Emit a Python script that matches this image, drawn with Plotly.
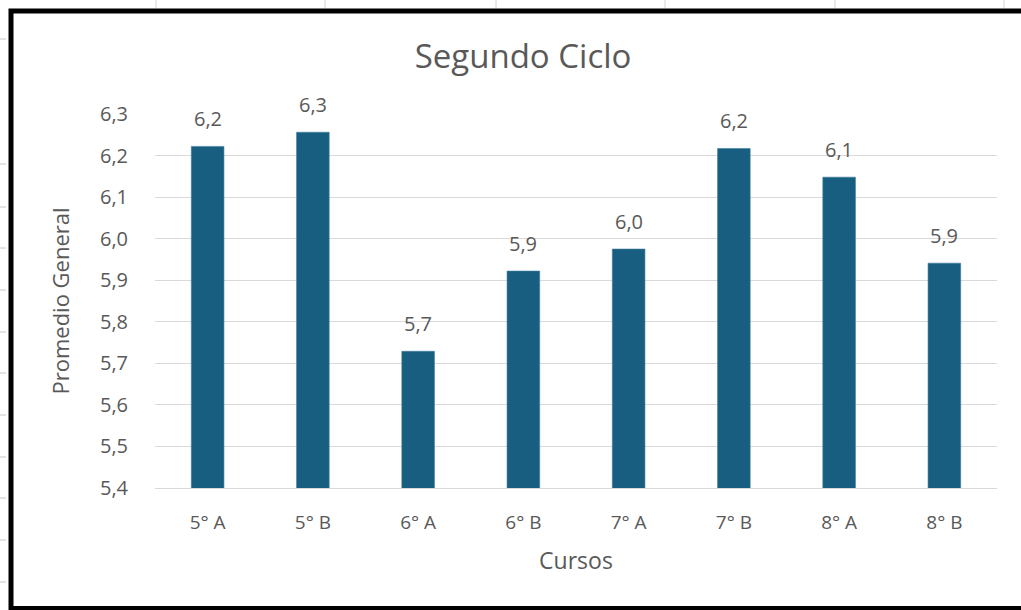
import plotly.graph_objects as go

cursos = ["5° A", "5° B", "6° A", "6° B", "7° A", "7° B", "8° A", "8° B"]
promedios = [6.222, 6.256, 5.729, 5.922, 5.975, 6.217, 6.148, 5.941]
y_ticks = [5.4, 5.5, 5.6, 5.7, 5.8, 5.9, 6.0, 6.1, 6.2, 6.3]
y_tick_labels = [f"{v:.1f}".replace(".", ",") for v in y_ticks]
data_labels = [f"{v:.1f}".replace(".", ",") for v in promedios]

W, H = 1021, 610
ML, MR, MT, MB = 155, 24, 114, 122
PW, PH = W - ML - MR, H - MT - MB

def px(x):
    return (x - ML) / PW

def py(y):
    return (H - MB - y) / PH

TXT = "#595959"
BAR = "#175E81"
FONT = "Open Sans, Liberation Sans, sans-serif"

fig = go.Figure()
fig.add_trace(go.Bar(
    x=cursos, y=promedios, width=0.31,
    marker=dict(color=BAR, line=dict(color="#3F7C9C", width=0.6)),
    hoverinfo="x+y",
))

for c, v, t in zip(cursos, promedios, data_labels):
    fig.add_annotation(x=c, y=v, text=t, showarrow=False, yshift=28,
                       font=dict(family=FONT, size=20, color=TXT))

shapes = []
# spreadsheet background gridlines (top)
for xv in [156, 325, 496, 665, 835, 1004]:
    shapes.append(dict(type="line", xref="paper", yref="paper",
                       x0=px(xv), x1=px(xv), y0=py(0), y1=py(8),
                       line=dict(color="#D4D4D4", width=1)))
# spreadsheet row ticks (left)
for yv in [39, 164, 207, 248, 290, 332, 373, 415, 457, 498, 540, 582]:
    shapes.append(dict(type="line", xref="paper", yref="paper",
                       x0=px(0), x1=px(6), y0=py(yv), y1=py(yv),
                       line=dict(color="#C8C8C8", width=1)))
# black chart border
shapes.append(dict(type="rect", xref="paper", yref="paper",
                   x0=px(11), x1=px(1040), y0=py(11), y1=py(608.5),
                   line=dict(color="black", width=5), fillcolor="rgba(0,0,0,0)"))
fig.update_layout(shapes=shapes)

fig.update_layout(
    width=W, height=H,
    margin=dict(l=ML, r=MR, t=MT, b=MB),
    paper_bgcolor="white", plot_bgcolor="white",
    separators=",.",
    showlegend=False,
    title=dict(text="Segundo Ciclo", x=px(523), xanchor="center", xref="paper",
               y=1 - 56 / H, yanchor="middle",
               font=dict(family=FONT, size=33, color=TXT)),
)
fig.update_xaxes(
    showgrid=False, showline=True, linecolor="#D9D9D9", linewidth=1,
    ticks="", ticklabelstandoff=17,
    tickfont=dict(family=FONT, size=19, color=TXT),
    title=dict(text="Cursos", standoff=19,
               font=dict(family=FONT, size=23, color=TXT)),
)
fig.update_yaxes(
    range=[5.4, 6.3], tickvals=y_ticks, ticktext=y_tick_labels,
    showgrid=True, gridcolor="#D9D9D9", gridwidth=1, zeroline=False,
    showline=False, ticks="", ticklabelstandoff=26,
    tickfont=dict(family=FONT, size=20, color=TXT),
    title=dict(text="Promedio General", standoff=24,
               font=dict(family=FONT, size=22, color=TXT)),
)

fig.write_html("out.html", config={"displayModeBar": False},
               post_script="document.body.style.margin='0';document.body.style.padding='0';")
